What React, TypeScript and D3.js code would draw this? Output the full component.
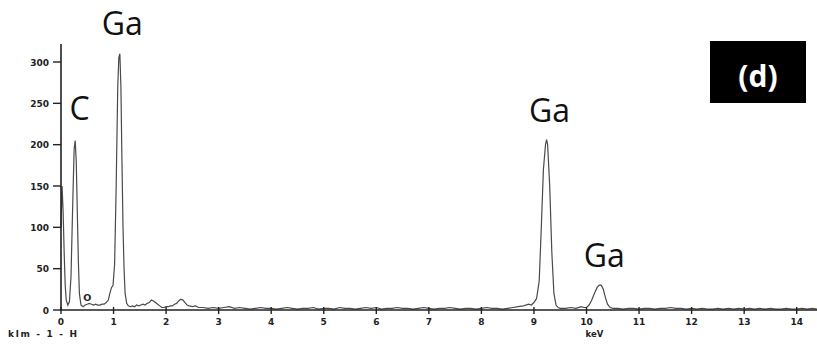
import React from "react";
import * as d3 from "d3";

const energies = [
  0.0, 0.02, 0.04, 0.06, 0.08, 0.1, 0.13, 0.16, 0.19, 0.22, 0.25, 0.27, 0.29, 0.31, 0.33, 0.35, 0.38, 0.42, 0.46, 0.5,
  0.54, 0.58, 0.62, 0.66, 0.7, 0.74, 0.78, 0.82, 0.86, 0.9, 0.93, 0.96, 0.99, 1.02, 1.05, 1.08, 1.1, 1.12, 1.14, 1.16,
  1.18, 1.2, 1.22, 1.25, 1.28, 1.32, 1.36, 1.4, 1.44, 1.48, 1.52, 1.56, 1.6, 1.64, 1.68, 1.72, 1.76, 1.8, 1.84, 1.88,
  1.92, 1.96, 2.0, 2.04, 2.08, 2.12, 2.16, 2.2, 2.24, 2.28, 2.32, 2.36, 2.4, 2.44, 2.5, 2.56, 2.62, 2.7, 2.8, 2.9,
  3.0, 3.1, 3.2, 3.3, 3.4, 3.5, 3.6, 3.7, 3.8, 3.9, 4.0, 4.1, 4.2, 4.3, 4.4, 4.5, 4.6, 4.7, 4.8, 4.9,
  5.0, 5.1, 5.2, 5.3, 5.4, 5.5, 5.6, 5.7, 5.8, 5.9, 6.0, 6.1, 6.2, 6.3, 6.4, 6.5, 6.6, 6.7, 6.8, 6.9,
  7.0, 7.1, 7.2, 7.3, 7.4, 7.5, 7.6, 7.7, 7.8, 7.9, 8.0, 8.1, 8.2, 8.3, 8.4, 8.5, 8.6, 8.7, 8.8, 8.9,
  8.95, 9.0, 9.05, 9.1, 9.14, 9.18, 9.22, 9.24, 9.26, 9.3, 9.34, 9.38, 9.42, 9.46, 9.5, 9.6, 9.7, 9.8, 9.9, 9.95,
  10.0, 10.05, 10.1, 10.15, 10.2, 10.24, 10.28, 10.32, 10.36, 10.4, 10.45, 10.5, 10.6, 10.7, 10.8, 10.9, 11.0, 11.1, 11.2, 11.3,
  11.4, 11.5, 11.6, 11.7, 11.8, 11.9, 12.0, 12.1, 12.2, 12.3, 12.4, 12.5, 12.6, 12.7, 12.8, 12.9, 13.0, 13.1, 13.2, 13.3,
  13.4, 13.5, 13.6, 13.7, 13.8, 13.9, 14.0, 14.1, 14.2, 14.3, 14.4,
];

const counts = [
  100, 150, 120, 70, 30, 12, 6, 10, 40, 120, 195, 205, 180, 120, 60, 20, 6, 4, 6, 7,
  8, 7, 6, 7, 6, 6, 7, 7, 9, 12, 20, 27, 30, 55, 150, 270, 305, 310, 270, 180,
  100, 50, 20, 8, 5, 4, 5, 4, 6, 5, 6, 7, 6, 8, 9, 12, 11, 9, 7, 5,
  3, 3, 4, 4, 5, 5, 7, 8, 11, 13, 12, 9, 6, 5, 4, 5, 3, 3, 2, 3,
  2, 3, 4, 2, 3, 2, 1, 2, 3, 2, 2, 1, 2, 3, 2, 1, 2, 2, 3, 1,
  2, 2, 1, 3, 2, 2, 1, 2, 3, 2, 3, 1, 2, 2, 3, 2, 2, 1, 2, 3,
  2, 1, 2, 2, 3, 2, 1, 2, 2, 1, 2, 3, 2, 2, 1, 2, 3, 4, 5, 7,
  6, 9, 14, 35, 100, 170, 200, 206, 200, 150, 70, 20, 6, 3, 2, 2, 3, 2, 4, 3,
  3, 6, 12, 20, 27, 30, 30, 25, 15, 7, 3, 2, 2, 1, 2, 2, 1, 2, 2, 1,
  2, 2, 3, 2, 2, 1, 2, 1, 2, 1, 1, 2, 1, 2, 1, 2, 1, 2, 1, 2,
  1, 2, 1, 1, 2, 1, 1, 2, 1, 2, 1,
];

const yTicks = [0, 50, 100, 150, 200, 250, 300];
const xTicks = [0, 1, 2, 3, 4, 5, 6, 7, 8, 9, 10, 11, 12, 13, 14];

const peakLabels = [
  { text: "Ga", e: 1.11, c: 310 },
  { text: "C", e: 0.27, c: 205 },
  { text: "Ga", e: 9.24, c: 206 },
  { text: "Ga", e: 10.26, c: 30 },
];

export default function App() {
  const W = 817;
  const H = 345;
  const x = d3.scaleLinear().domain([0, 14]).range([61, 796.7]);
  const y = d3.scaleLinear().domain([0, 300]).range([310, 62]);
  const pts = energies.map((e, i) => [e, counts[i]] as [number, number]);
  const line = d3
    .line<[number, number]>()
    .x((d) => x(d[0]))
    .y((d) => y(d[1]));
  const tickFont = "'DejaVu Sans', 'Liberation Sans', Arial, sans-serif";
  const labelFont = "'Open Sans', 'Noto Sans', sans-serif";
  const labelOffsets = [
    { dx: 3, dy: -19 },
    { dx: 4.5, dy: -20.5 },
    { dx: 3, dy: -18 },
    { dx: 4, dy: -18.5 },
  ];
  return (
    <svg
      width={W}
      height={H}
      style={{ position: "absolute", left: 0, top: 0, background: "#fff" }}
    >
      <rect x={0} y={0} width={W} height={H} fill="#fff" />
      {/* spectrum */}
      <path d={line(pts) || ""} fill="none" stroke="#4a4a4a" strokeWidth={1.2} />
      {/* y axis */}
      <line x1={61} x2={61} y1={44} y2={311} stroke="#222" strokeWidth={1.6} />
      {yTicks.map((t) => (
        <g key={"y" + t}>
          <line x1={53} x2={61} y1={y(t)} y2={y(t)} stroke="#222" strokeWidth={1.4} />
          <text
            x={49}
            y={y(t) + 3.5}
            textAnchor="end"
            fontFamily={tickFont}
            fontWeight="bold"
            fontSize={9}
            fill="#222"
          >
            {t}
          </text>
        </g>
      ))}
      {/* x axis */}
      <line x1={60} x2={817} y1={310} y2={310} stroke="#222" strokeWidth={1.6} />
      {xTicks.map((t) => (
        <g key={"x" + t}>
          <line x1={x(t)} x2={x(t)} y1={307} y2={314} stroke="#222" strokeWidth={1.4} />
          <text
            x={x(t)}
            y={325}
            textAnchor="middle"
            fontFamily={tickFont}
            fontWeight="bold"
            fontSize={9}
            fill="#222"
          >
            {t}
          </text>
        </g>
      ))}
      <text
        x={8}
        y={337}
        fontFamily={tickFont}
        fontWeight="bold"
        fontSize={9}
        fill="#222"
        textLength={69}
        lengthAdjust="spacing"
      >
        klm - 1 - H
      </text>
      <text x={x(10) + 8} y={337} textAnchor="middle" fontFamily={tickFont} fontWeight="bold" fontSize={8.5} fill="#222">
        keV
      </text>
      {/* O label */}
      <text x={x(0.5)} y={301} textAnchor="middle" fontFamily={tickFont} fontWeight="bold" fontSize={9.5} fill="#222">
        O
      </text>
      {/* peak labels */}
      {peakLabels.map((p, i) => (
        <text
          key={"p" + i}
          x={x(p.e) + labelOffsets[i].dx}
          y={y(p.c) + labelOffsets[i].dy}
          textAnchor="middle"
          fontFamily={labelFont}
          fontSize={32}
          fill="#111"
        >
          {p.text}
        </text>
      ))}
      {/* (d) box */}
      <rect x={710} y={41} width={96} height={62} fill="#000" />
      <text
        x={758}
        y={87}
        textAnchor="middle"
        fontFamily={labelFont}
        fontWeight="bold"
        fontSize={30}
        fill="#fff"
      >
        (d)
      </text>
    </svg>
  );
}
